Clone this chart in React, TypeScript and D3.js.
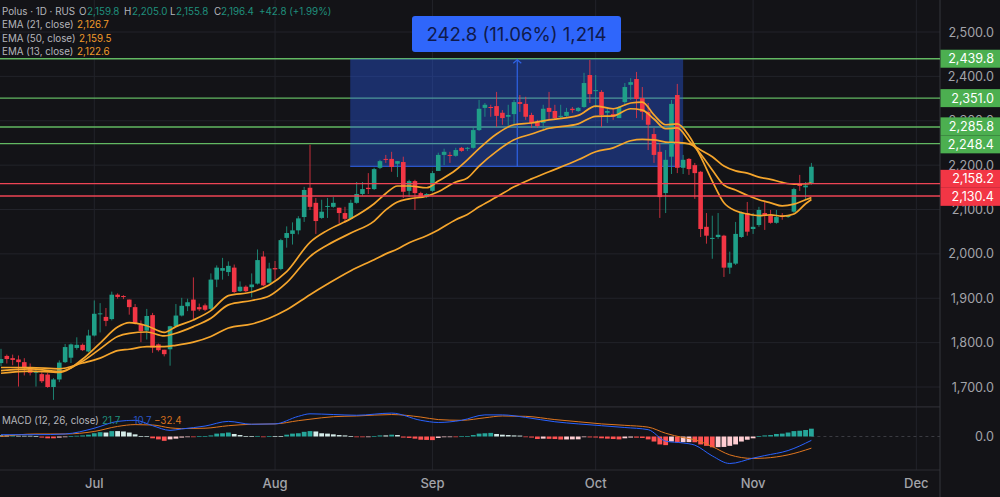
import { useEffect, useRef } from 'react';
import * as d3 from 'd3';

const opens = [1754,1770,1765,1762,1756,1744,1732,1729,1728,1700,1717,1756,1766,1788,1795,1780,1816,1864,1858,1853,1908,1905,1897,1880,1840,1827,1862,1796,1784,1785,1837,1861,1882,1897,1880,1884,1876,1942,1962,1959,1969,1916,1926,1925,1933,1994,1935,1968,1966,2036,2045,2053,2083,2149,2115,2081,2106,2106,2104,2092,2079,2115,2135,2149,2146,2194,2214,2214,2203,2207,2142,2164,2137,2128,2142,2187,2223,2223,2221,2239,2237,2239,2279,2329,2331,2333,2318,2309,2315,2342,2338,2313,2297,2295,2329,2322,2309,2311,2327,2322,2331,2403,2367,2365,2318,2315,2306,2342,2381,2394,2351,2320,2270,2230,2137,2219,2358,2194,2214,2200,2185,2061,2034,2038,2041,1969,1978,2038,2092,2056,2065,2092,2086,2070,2086,2083,2095,2158,2150,2159.8];
const highs = [1786,1773,1773,1771,1765,1753,1739,1733,1732,1720,1760,1797,1798,1812,1798,1829,1895,1889,1878,1915,1911,1907,1897,1887,1850,1876,1867,1798,1784,1838,1887,1901,1899,1947,1888,1888,1956,1974,1991,1983,1976,1938,1929,1956,2010,2006,1980,1984,2034,2062,2071,2085,2151,2246,2126,2122,2126,2128,2104,2106,2122,2162,2162,2182,2194,2212,2223,2230,2209,2219,2167,2167,2140,2137,2187,2228,2237,2230,2239,2241,2241,2286,2347,2340,2336,2365,2324,2336,2347,2358,2354,2318,2302,2336,2365,2336,2336,2329,2331,2331,2408,2437,2403,2369,2329,2329,2333,2385,2396,2410,2376,2340,2284,2250,2234,2347,2383,2223,2216,2205,2187,2092,2086,2092,2043,2005,2072,2095,2117,2092,2106,2117,2099,2099,2092,2088,2149,2178,2162,2205];
const lows = [1747,1753,1749,1701,1726,1726,1701,1709,1698,1671,1711,1754,1754,1784,1781,1778,1814,1823,1837,1850,1899,1898,1863,1841,1801,1807,1777,1780,1769,1748,1837,1859,1871,1852,1871,1871,1874,1925,1942,1950,1912,1914,1914,1902,1931,1927,1933,1942,1963,2014,2021,2044,2072,2099,2045,2079,2081,2104,2068,2070,2077,2113,2131,2135,2144,2191,2205,2185,2173,2126,2128,2099,2126,2126,2140,2187,2200,2205,2219,2230,2232,2237,2277,2309,2309,2286,2291,2286,2291,2320,2302,2284,2284,2279,2302,2302,2306,2309,2318,2320,2329,2340,2329,2286,2295,2302,2306,2336,2347,2306,2302,2234,2205,2081,2092,2180,2182,2180,2178,2124,2038,2023,1989,2034,1948,1955,1975,2036,2041,2045,2061,2054,2068,2068,2077,2081,2092,2142,2122,2155.8];
const closes = [1763,1763,1761,1756,1744,1732,1735,1713,1700,1717,1755,1790,1796,1795,1783,1816,1865,1866,1849,1908,1903,1903,1880,1843,1826,1860,1789,1783,1774,1837,1861,1883,1891,1872,1875,1874,1942,1969,1968,1973,1914,1926,1916,1931,1986,1929,1967,1965,2031,2047,2053,2080,2144,2106,2074,2095,2108,2115,2092,2079,2115,2135,2146,2146,2191,2209,2212,2196,2209,2140,2164,2137,2126,2135,2182,2223,2230,2221,2234,2232,2239,2279,2327,2336,2329,2311,2306,2313,2342,2338,2309,2295,2288,2327,2320,2306,2311,2320,2324,2329,2385,2360,2369,2313,2322,2309,2331,2376,2387,2349,2320,2291,2223,2128,2212,2338,2194,2212,2191,2182,2056,2041,2036,2043,1969,1980,2045,2092,2050,2061,2099,2086,2070,2083,2083,2086,2146,2153,2154,2196.4];

const emaBars = [0,5,10,14,17,20,22,25,28,30,33,36,39,43,46,49,53,56,60,64,66,68,70,73,75,78,80,82,85,88,91,94,99,102,105,108,110,112,114,116,118,120,122,124,126,128,130,132,134,136,138,139];
const ema13 = [1731,1736,1733,1763,1799,1835,1845,1838,1823,1836,1851,1872,1906,1914,1930,1960,2026,2053,2079,2113,2136,2153,2153,2149,2164,2189,2212,2237,2270,2291,2295,2302,2312,2333,2327,2340,2342,2313,2291,2293,2266,2219,2164,2115,2097,2090,2086,2088,2085,2090,2113,2122.6];
const ema21 = [1737,1741,1735,1758,1786,1814,1821,1824,1815,1821,1836,1855,1885,1895,1905,1935,1994,2020,2047,2074,2099,2117,2124,2130,2140,2162,2171,2198,2231,2257,2270,2283,2293,2310,2311,2327,2324,2304,2282,2284,2255,2225,2189,2155,2144,2132,2122,2115,2108,2112,2122,2126.7];
const ema50 = [1744,1744,1741,1754,1765,1782,1785,1791,1791,1794,1801,1814,1833,1842,1855,1874,1908,1932,1962,1987,2000,2011,2025,2041,2054,2077,2089,2106,2128,2151,2169,2185,2212,2230,2239,2255,2258,2257,2252,2251,2248,2234,2219,2198,2187,2182,2173,2168,2161,2157,2158,2159.5];

const histogram = [3,3,4,2,2,2,1,-3,-5,-5,-3,-2,1,2,3,5,9,12,11,15,15,14,11,6,1,0.5,-5,-8,-12,-8,-6,-3,-1,-1,0.5,1,3,8,9,11,7,4,1,1,1.5,-1,1,1,1,5,8,9,13,15,14,9,8,6,4,3,1,-2,-2,-1,1,3,3,5,4,-3,-4,-6,-9,-9.5,-10,-4,-2,-1,-1,0.5,1,4,8,9,10,7,5,4,3,2.5,-1,-3,-7,-6,-6.5,-7,-8.4,-8.2,-8,-7.8,-2,-2.5,-2.8,-5,-6,-7,-8,-5,-3,-3.2,-4,-8,-14,-22,-24,-14,-16,-15.8,-15.6,-16,-22,-26,-30,-29.5,-29,-26,-22,-14,-9,-5,1,3,4,7,8,11,15,16,18,21.7];
const macdBars = [0,6,11,16,20,23,26,29,31,35,39,43,47,51,53,57,61,67,72,75,79,83,86,90,95,99,103,107,111,114,117,119,122,125,129,131,135,139];
const macdLine = [5,5,7,23,42,45,30,17,21,29,42,34,35,56,63,61,59,65,45,39,45,60,60,53,41,35,30,25,19,-13,-18,-24,-54,-75,-60,-53,-39,-10.7];
const signalLine = [0,7,7,14,28,33,32,24,22,23,30,34,35,44,48,55,57,61,54,47,45,52,57,56,47,41,35,31,26,9,-3,-9,-28,-51,-61,-60,-51,-32.4];

const priceTicks = [2500,2400,2300,2200,2100,2000,1900,1800,1700];
const monthLabels = ['Jul','Aug','Sep','Oct','Nov','Dec'];
const monthBars = [16,47,74,102,129,157];
const greenLevels = [2439.8,2351.0,2285.8,2248.4];
const redLevels = [2158.2,2130.4];
const measureTop = 2439.8;
const measureBottom = 2197.0;
const measureBars = [59.9,117];

const UP = '#1f9f88';
const DOWN = '#f23645';
const GRID = '#22232a';
const FONT = 'Inter, "Noto Sans", sans-serif';
const TAG_H = 18;

export default function App() {
  const svgRef = useRef<SVGSVGElement>(null);

  useEffect(() => {
    if (!svgRef.current) return;
    const svg = d3.select(svgRef.current);
    svg.selectAll('*').remove();

    const x = d3.scaleLinear().domain([0, 139]).range([1, 811.4]);
    const y = d3.scaleLinear().domain([1700, 2500]).range([387, 32]);
    const yMacd = d3.scaleLinear().domain([-100, 80]).range([472.5, 407.7]);
    const fmt = d3.format(',.1f');

    svg.append('rect').attr('width', 1000).attr('height', 497).attr('fill', '#131317');

    // grid
    svg.selectAll('.hgrid').data(priceTicks).enter().append('line')
      .attr('x1', 0).attr('x2', 940)
      .attr('y1', (d) => y(d)).attr('y2', (d) => y(d))
      .attr('stroke', GRID);
    svg.selectAll('.vgrid').data(monthBars).enter().append('line')
      .attr('x1', (d) => x(d)).attr('x2', (d) => x(d))
      .attr('y1', 0).attr('y2', 470)
      .attr('stroke', GRID);
    [406.8, 470].forEach((v) => {
      svg.append('line').attr('x1', 0).attr('x2', 940).attr('y1', v).attr('y2', v)
        .attr('stroke', '#2c2d33').attr('stroke-width', 1.2);
    });
    svg.append('line').attr('x1', 940).attr('x2', 940).attr('y1', 0).attr('y2', 497)
      .attr('stroke', '#35363c');

    // horizontal levels
    greenLevels.forEach((v) => {
      svg.append('line').attr('x1', 0).attr('x2', 940).attr('y1', y(v)).attr('y2', y(v))
        .attr('stroke', '#62b862').attr('stroke-width', 1.4);
    });

    // measure box
    svg.append('rect')
      .attr('x', x(measureBars[0])).attr('width', x(measureBars[1]) - x(measureBars[0]))
      .attr('y', y(measureTop)).attr('height', y(measureBottom) - y(measureTop))
      .attr('fill', 'rgba(41,98,255,0.36)');
    svg.append('line')
      .attr('x1', x(measureBars[0])).attr('x2', x(measureBars[1]))
      .attr('y1', y(measureBottom)).attr('y2', y(measureBottom))
      .attr('stroke', '#2a55c8').attr('stroke-width', 1.2);
    const midBar = (measureBars[0] + measureBars[1]) / 2 + 0.1;
    svg.append('line')
      .attr('x1', x(midBar)).attr('x2', x(midBar))
      .attr('y1', y(measureBottom)).attr('y2', y(measureTop))
      .attr('stroke', '#2f63e6').attr('stroke-width', 1.2);
    svg.append('path')
      .attr('d', d3.line()([[x(midBar) - 4, y(measureTop) + 4.5], [x(midBar), y(measureTop) + 1], [x(midBar) + 4, y(measureTop) + 4.5]]))
      .attr('fill', 'none').attr('stroke', '#2f63e6').attr('stroke-width', 1.2);

    // candles
    const candles = svg.append('g');
    closes.forEach((c, i) => {
      const color = c >= opens[i] ? UP : DOWN;
      candles.append('line')
        .attr('x1', x(i)).attr('x2', x(i))
        .attr('y1', y(highs[i])).attr('y2', y(lows[i]))
        .attr('stroke', color).attr('stroke-width', 1).attr('stroke-opacity', 0.8);
      const top = y(Math.max(opens[i], c));
      const bottom = y(Math.min(opens[i], c));
      candles.append('rect')
        .attr('x', x(i) - 2.3).attr('width', 4.6)
        .attr('y', top).attr('height', Math.max(bottom - top, 1))
        .attr('fill', color);
    });

    // EMA lines
    const emaLine = d3.line<number>()
      .x((_, i) => x(emaBars[i]))
      .y((d) => y(d))
      .curve(d3.curveMonotoneX);
    [ema50, ema21, ema13].forEach((series) => {
      svg.append('path').attr('d', emaLine(series))
        .attr('fill', 'none').attr('stroke', '#f5a52c').attr('stroke-width', 1.7);
    });

    redLevels.forEach((v) => {
      svg.append('line').attr('x1', 0).attr('x2', 940).attr('y1', y(v)).attr('y2', y(v))
        .attr('stroke', '#ee4455').attr('stroke-width', 1.4);
    });

    // MACD pane
    svg.append('line').attr('x1', x(139)).attr('x2', 940)
      .attr('y1', yMacd(0)).attr('y2', yMacd(0))
      .attr('stroke', '#3a3b41').attr('stroke-dasharray', '3 3');
    histogram.forEach((h, i) => {
      const prev = i > 0 ? histogram[i - 1] : h;
      let color = '#ff5252';
      if (h >= 0) color = prev < h ? '#26a69a' : '#d5ece9';
      else if (prev < h) color = '#ffcdd2';
      const top = Math.min(yMacd(h), yMacd(0));
      svg.append('rect')
        .attr('x', x(i) - 2.4).attr('width', 4.8)
        .attr('y', top).attr('height', Math.max(Math.abs(yMacd(h) - yMacd(0)), 0.7))
        .attr('fill', color);
    });
    const macdPath = d3.line<number>()
      .x((_, i) => x(macdBars[i]))
      .y((d) => yMacd(d))
      .curve(d3.curveMonotoneX);
    svg.append('path').attr('d', macdPath(signalLine))
      .attr('fill', 'none').attr('stroke', '#e0761f').attr('stroke-width', 1);
    svg.append('path').attr('d', macdPath(macdLine))
      .attr('fill', 'none').attr('stroke', '#2962ff').attr('stroke-width', 1);

    // price axis
    const axisText = svg.append('g').attr('font-family', FONT).attr('font-size', 12.6)
      .attr('text-anchor', 'end').attr('fill', '#a3a4aa');
    priceTicks.forEach((v) => {
      axisText.append('text').attr('x', 994).attr('y', y(v)).attr('dy', '0.36em').text(fmt(v));
    });
    axisText.append('text').attr('x', 994).attr('y', yMacd(0)).attr('dy', '0.36em').text('0.0');

    // price tags: a close pair is spread around its midpoint so both stay readable
    const drawTags = (levels: number[], fill: string, shift = 0) => {
      const centers = levels.map((v) => y(v));
      if (levels.length === 2 && centers[1] - centers[0] < TAG_H) {
        const mid = (centers[0] + centers[1]) / 2 + shift;
        centers[0] = mid - TAG_H / 2;
        centers[1] = mid + TAG_H / 2;
      }
      levels.forEach((v, i) => {
        svg.append('rect').attr('x', 940.5).attr('width', 59.5)
          .attr('y', centers[i] - TAG_H / 2).attr('height', TAG_H).attr('fill', fill);
      });
      levels.forEach((v, i) => {
        svg.append('text').attr('x', 994).attr('y', centers[i]).attr('dy', '0.36em')
          .attr('text-anchor', 'end').attr('font-family', FONT).attr('font-size', 12.6)
          .attr('fill', '#ffffff').text(fmt(v));
      });
    };
    drawTags(greenLevels.slice(0, 1), '#4caf50');
    drawTags(greenLevels.slice(1, 2), '#4caf50');
    drawTags(greenLevels.slice(2), '#4caf50');
    drawTags(redLevels, '#f23645', -2);

    // time axis
    svg.selectAll('.month').data(monthLabels).enter().append('text')
      .attr('x', (_, i) => x(monthBars[i])).attr('y', 488)
      .attr('text-anchor', 'middle').attr('font-family', FONT)
      .attr('font-size', 13).attr('font-weight', 500).attr('fill', '#a3a4aa')
      .text((d) => d);

    // measure label
    svg.append('rect').attr('x', 412).attr('y', 16).attr('width', 209).attr('height', 36)
      .attr('rx', 3).attr('fill', '#2f66fb');
    svg.append('text').attr('x', 516.5).attr('y', 34).attr('dy', '0.36em')
      .attr('text-anchor', 'middle').attr('font-family', FONT).attr('font-size', 18.6)
      .attr('fill', '#0f1a4c').text('242.8 (11.06%) 1,214');

    // legends
    const legend = svg.append('g').attr('font-family', FONT).attr('font-size', 9.8);
    const put = (px: number, py: number, s: string, fill: string) => {
      legend.append('text').attr('x', px).attr('y', py).attr('dy', '0.36em')
        .attr('fill', fill).text(s);
    };
    const LABEL = '#b4b5bb';
    const TEAL = '#1f8f7c';
    const ORANGE = '#f09a2a';
    put(2, 11, 'Polus · 1D · RUS', LABEL);
    put(79, 11, 'O', LABEL);
    put(87, 11, '2,159.8', TEAL);
    put(124, 11, 'H', LABEL);
    put(132, 11, '2,205.0', TEAL);
    put(170, 11, 'L', LABEL);
    put(176, 11, '2,155.8', TEAL);
    put(214, 11, 'C', LABEL);
    put(221, 11, '2,196.4', TEAL);
    put(259, 11, '+42.8 (+1.99%)', TEAL);
    put(2, 24.5, 'EMA (21, close)', LABEL);
    put(77, 24.5, '2,126.7', ORANGE);
    put(2, 38, 'EMA (50, close)', LABEL);
    put(79, 38, '2,159.5', ORANGE);
    put(2, 51, 'EMA (13, close)', LABEL);
    put(77, 51, '2,122.6', ORANGE);
    put(2, 420, 'MACD (12, 26, close)', LABEL);
    put(102, 420, '21.7', TEAL);
    put(127, 420, '−10.7', '#2a56c6');
    put(154, 420, '−32.4', '#d9701e');
  }, []);

  return (
    <svg
      ref={svgRef}
      width={1000}
      height={497}
      viewBox="0 0 1000 497"
      style={{ position: 'absolute', left: 0, top: 0, display: 'block' }}
    />
  );
}
